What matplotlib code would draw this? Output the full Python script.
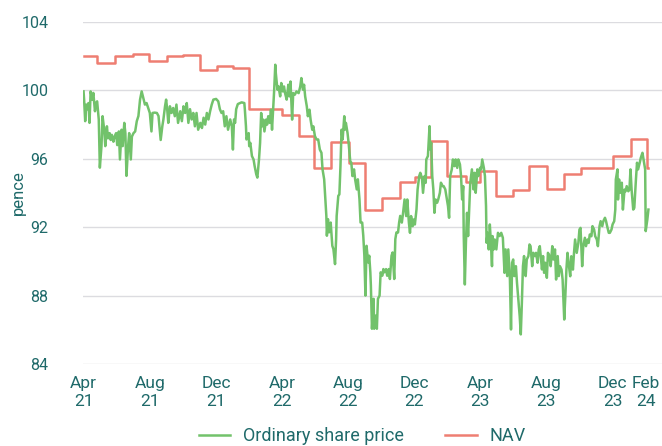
import matplotlib
matplotlib.use("Agg")
import matplotlib.pyplot as plt
from matplotlib.lines import Line2D
import pandas as pd

plt.rcParams['font.family'] = ['Roboto', 'DejaVu Sans']

START = pd.Timestamp("2021-04-01")

# Ordinary share price (pence), day offsets from 1 Apr 2021
share_day = [0, 1, 3, 5, 7, 9, 11, 13, 16, 18, 21, 23, 25, 28, 30, 33, 35, 38, 40, 43, 45, 48, 50, 52, 55, 57, 60, 62, 65, 67, 70, 72, 75, 77, 79, 82, 84, 87, 89, 92, 95, 98, 101, 104, 107, 110, 113, 116, 119, 122, 125, 127, 131, 135, 138, 142, 145, 147, 150,
             152, 154, 156, 159, 162, 165, 168, 171, 174, 178, 181, 184, 187, 190, 193, 196, 199, 202, 205, 208, 211, 215, 218, 221, 224, 227, 230, 233, 236, 239, 244, 248, 251, 254, 257, 260, 263, 266, 270, 273, 275, 277, 279, 281, 284, 291, 296,
             297, 299, 300, 304, 305, 307, 310, 313, 315, 318, 320, 323, 325, 327, 329, 331, 333, 336, 338, 340, 343, 345, 347, 351, 353, 354, 357, 359, 362, 364, 367, 369, 371, 374, 377, 379, 381, 384, 386, 389, 392, 396, 399, 401, 404, 406, 408, 411, 413, 416, 418, 421, 423, 426, 429, 432, 435, 438, 440, 443,
             447, 448, 450, 452, 455, 458, 460, 463, 465, 466, 469, 471, 473, 475, 477, 480, 481, 483, 486, 488, 491, 493, 495, 498, 500, 503, 505, 508, 510, 513, 515, 517, 519, 521, 524, 526, 528, 529, 531, 534, 535, 538, 540, 542, 545, 547, 550, 552, 554, 557, 559, 562, 564, 567, 569, 572, 574, 576, 579, 581, 583, 586, 588,
             591, 594, 596, 599, 601, 603, 606, 608, 610, 613, 615, 618, 620, 623, 625, 628, 630, 631, 634, 635, 637, 638, 640, 642, 644, 646, 648, 651, 653, 656, 658, 661, 663, 666, 668, 671, 673, 675, 678, 680, 683, 685, 688, 690, 693, 695, 697, 699, 700, 702, 704, 706, 708, 710, 712, 715, 718, 720, 722, 725, 727, 730, 732, 734,
             737, 739, 741, 742, 744, 746, 748, 750, 752, 753, 755, 757, 760, 763, 766, 769, 772, 775, 777, 780, 782, 785, 787, 789, 791, 793, 796, 798, 800, 803, 805, 807, 809, 811, 814, 816, 819, 821, 823, 826, 828, 831, 833, 836, 838, 840, 844, 846, 848, 850, 853, 855, 858, 860, 863, 865, 868, 870, 873, 875,
             877, 880, 882, 885, 887, 889, 891, 893, 896, 898, 901, 903, 905, 908, 911, 913, 915, 918, 920, 923, 925, 928, 930, 932, 935, 937, 940, 942, 945, 947, 950, 952, 955, 957, 960, 962, 964, 967, 969, 972, 974, 977, 979, 980, 983, 984, 986, 988, 991, 993, 996, 998, 1000, 1003, 1005, 1007, 1009, 1012, 1014, 1017, 1019, 1021, 1024, 1026, 1029, 1031, 1034, 1035, 1038, 1040]
share_price = [99.94, 99.46, 98.2, 99.17, 98.9, 99.26, 98.1, 99.94, 99.46, 99.85, 98.78, 99.26, 99.36, 98.3, 95.48, 96.74, 98.49, 97.7, 96.74, 97.9, 97.2, 97.5, 97.1, 97.4, 97.0, 97.3, 97.5, 96.8, 97.6, 95.96, 97.7, 96.74, 98.1, 97.5, 95.0, 96.74, 97.5, 95.96, 97.3, 97.5, 97.6, 98.2, 98.5, 99.46, 99.94, 99.55, 99.17, 99.26, 98.97, 98.68, 97.6, 98.68, 98.7, 98.68, 98.5, 97.1, 97.9, 98.3, 99.07,
               99.46, 98.9, 98.1, 99.07, 98.68, 98.97, 98.49, 99.17, 98.1, 98.78, 98.2, 99.07, 98.68, 99.26, 98.1, 98.9, 98.3, 98.68, 97.9, 98.68, 97.7, 98.1, 97.8, 98.4, 98.0, 98.68, 98.3, 98.78, 99.17, 99.46, 99.5, 99.36, 98.9, 98.68, 98.78, 97.9, 98.49, 97.7, 98.3, 97.9, 96.54, 98.3, 98.1, 98.9, 99.2, 99.3, 99.26,
               98.87, 97.9, 97.13, 97.5, 96.74, 96.93, 96.16, 95.96, 95.57, 95.09, 94.9, 95.96, 96.93, 98.68, 97.9, 98.29, 97.6, 98.29, 98.0, 98.49, 98.1, 98.87, 97.7, 100.04, 101.5, 101.0, 100.04, 100.23, 99.65, 100.43, 99.94, 100.23, 99.84, 99.46, 100.33, 99.65, 100.52, 98.29, 99.84, 99.75, 99.94, 99.84, 100.23, 100.72, 100.04, 100.33, 99.65, 99.07, 98.49, 98.87, 98.29, 97.7, 97.9, 97.32, 97.13, 97.13, 96.54, 96.35, 95.38, 94.8,
               92.66, 91.5, 92.47, 91.7, 92.27, 90.91, 90.72, 89.84, 91.3, 92.66, 93.83, 93.92, 95.57, 97.7, 97.13, 98.49, 97.7, 98.1, 97.51, 96.93, 95.86, 95.77, 94.99, 95.38, 94.8, 94.21, 94.8, 93.63, 92.27, 92.27, 91.5, 90.33, 88.0, 90.91, 89.94, 90.33, 89.36, 88.58, 86.06, 87.81, 86.06, 86.83, 86.06, 87.81, 88.0, 89.36, 89.16, 89.55, 89.36, 89.55, 89.16, 89.55, 88.97, 90.33, 90.52, 88.97, 91.3, 91.69, 91.69, 92.27, 92.66, 92.27, 92.76,
               93.62, 92.65, 93.62, 92.26, 91.67, 92.65, 92.06, 92.45, 92.16, 93.04, 94.21, 94.99, 95.18, 94.89, 94.01, 94.99, 94.6, 95.96, 96.16, 96.74, 97.91, 96.55, 96.94, 94.99, 94.21, 92.84, 93.62, 93.43, 93.62, 94.01, 94.6, 94.4, 94.4, 94.21, 93.82, 93.23, 92.55, 94.99, 95.38, 95.96, 95.57, 95.96, 95.47, 95.96, 95.67, 94.99, 93.62, 94.4, 91.48, 88.65, 91.09, 92.84, 91.48, 93.04, 94.6, 95.38, 94.21, 95.18, 94.01, 95.38, 94.99, 95.47, 95.38, 95.96,
               95.47, 94.99, 93.23, 91.09, 91.67, 90.7, 92.16, 91.09, 89.72, 91.48, 90.7, 91.28, 90.7, 91.67, 91.48, 91.67, 91.38, 89.33, 90.7, 89.14, 90.7, 88.94, 86.02, 89.92, 90.11, 89.14, 89.72, 88.75, 87.97, 86.8, 85.73, 87.58, 89.72, 90.31, 89.14, 90.11, 90.31, 90.99, 90.89, 89.72, 90.5, 90.31, 90.5, 89.92, 90.7, 90.89, 89.53, 90.31, 89.33, 89.92, 89.04, 90.5, 90.31, 89.72, 90.89, 90.11, 90.7, 88.94, 90.31, 89.14,
               89.72, 89.52, 88.94, 86.6, 87.96, 89.52, 90.5, 89.91, 89.13, 90.3, 89.52, 90.5, 91.28, 90.5, 91.08, 91.86, 91.96, 89.72, 90.89, 91.38, 90.89, 91.28, 91.08, 91.57, 91.47, 92.06, 91.86, 91.47, 91.28, 90.89, 92.06, 92.35, 92.06, 92.35, 92.55, 92.35, 92.06, 91.67, 91.67, 91.86, 92.16, 92.35, 93.03, 94.79, 95.38, 93.62, 94.79, 94.01, 94.6, 93.03, 94.2, 94.1, 94.4, 94.1, 94.2, 95.38, 94.2, 93.03, 93.13, 94.79, 95.77, 95.38, 95.77, 96.06, 96.35, 95.96, 95.38, 91.77, 92.45, 93.03]

# NAV (pence), value holds from each change day
nav_day = [0, 25, 58, 91, 121, 153, 183, 215, 245, 276, 305, 365, 396, 425, 456, 488, 518, 549, 582, 610, 640, 669, 704, 729, 759, 790, 821, 854, 884, 916, 975, 1008, 1038, 1040]
nav_value = [102.03, 101.58, 102.01, 102.15, 101.72, 102.03, 102.08, 101.17, 101.41, 101.33, 98.93, 98.56, 97.33, 95.46, 96.96, 95.74, 92.99, 93.73, 94.66, 94.95, 97.06, 95.0, 94.66, 95.30, 93.84, 94.16, 95.58, 94.22, 95.11, 95.46, 96.18, 97.16, 95.45, 95.45]

tick_dates = ["2021-04-01", "2021-08-01", "2021-12-01", "2022-04-01", "2022-08-01", "2022-12-01",
              "2023-04-01", "2023-08-01", "2023-12-01", "2024-02-01"]
tick_labels = ["Apr\n21", "Aug\n21", "Dec\n21", "Apr\n22", "Aug\n22", "Dec\n22",
               "Apr\n23", "Aug\n23", "Dec\n23", "Feb\n24"]
y_ticks = [84, 88, 92, 96, 100, 104]

GREEN = "#72c26b"
RED = "#ee7e72"
TEAL = "#1f6a6a"
GRID = "#dcdce0"

share_dates = START + pd.to_timedelta(share_day, unit="D")
nav_dates = START + pd.to_timedelta(nav_day, unit="D")

fig = plt.figure(figsize=(6.62, 4.46), dpi=100)
ax = fig.add_axes([0.1254, 0.1839, 0.8746, 0.7668])

ax.step(nav_dates, nav_value, where="post", color=RED, lw=1.8, zorder=2)
ax.plot(share_dates, share_price, color=GREEN, lw=1.8, zorder=3)

ax.set_ylim(84, 104)
ax.set_yticks(y_ticks)
ax.set_xlim(START - pd.Timedelta(days=1), START + pd.Timedelta(days=1065))
ax.set_xticks(pd.to_datetime(tick_dates))
ax.set_xticklabels(tick_labels, linespacing=1.2, fontsize=12.5)

for s in ax.spines.values():
    s.set_visible(False)
ax.grid(axis="y", color=GRID, lw=1.0)
ax.grid(axis="x", visible=False)
ax.set_axisbelow(True)
ax.tick_params(axis="both", length=0, colors=TEAL)
ax.tick_params(axis="y", pad=25, labelsize=11.5)
ax.tick_params(axis="x", pad=9)

ax.set_ylabel("pence", color=TEAL, fontsize=12)
ax.yaxis.set_label_coords(-0.098, 0.5)

handles = [Line2D([], [], color=GREEN, lw=1.8), Line2D([], [], color=RED, lw=1.8)]
fig.legend(handles, ["Ordinary share price", "NAV"], loc="center", bbox_to_anchor=(0.547, 0.022),
           ncol=2, frameon=False, fontsize=13, labelcolor=TEAL, handlelength=1.75,
           columnspacing=2.3, handletextpad=0.7)

fig.savefig("out.png", dpi=100)
